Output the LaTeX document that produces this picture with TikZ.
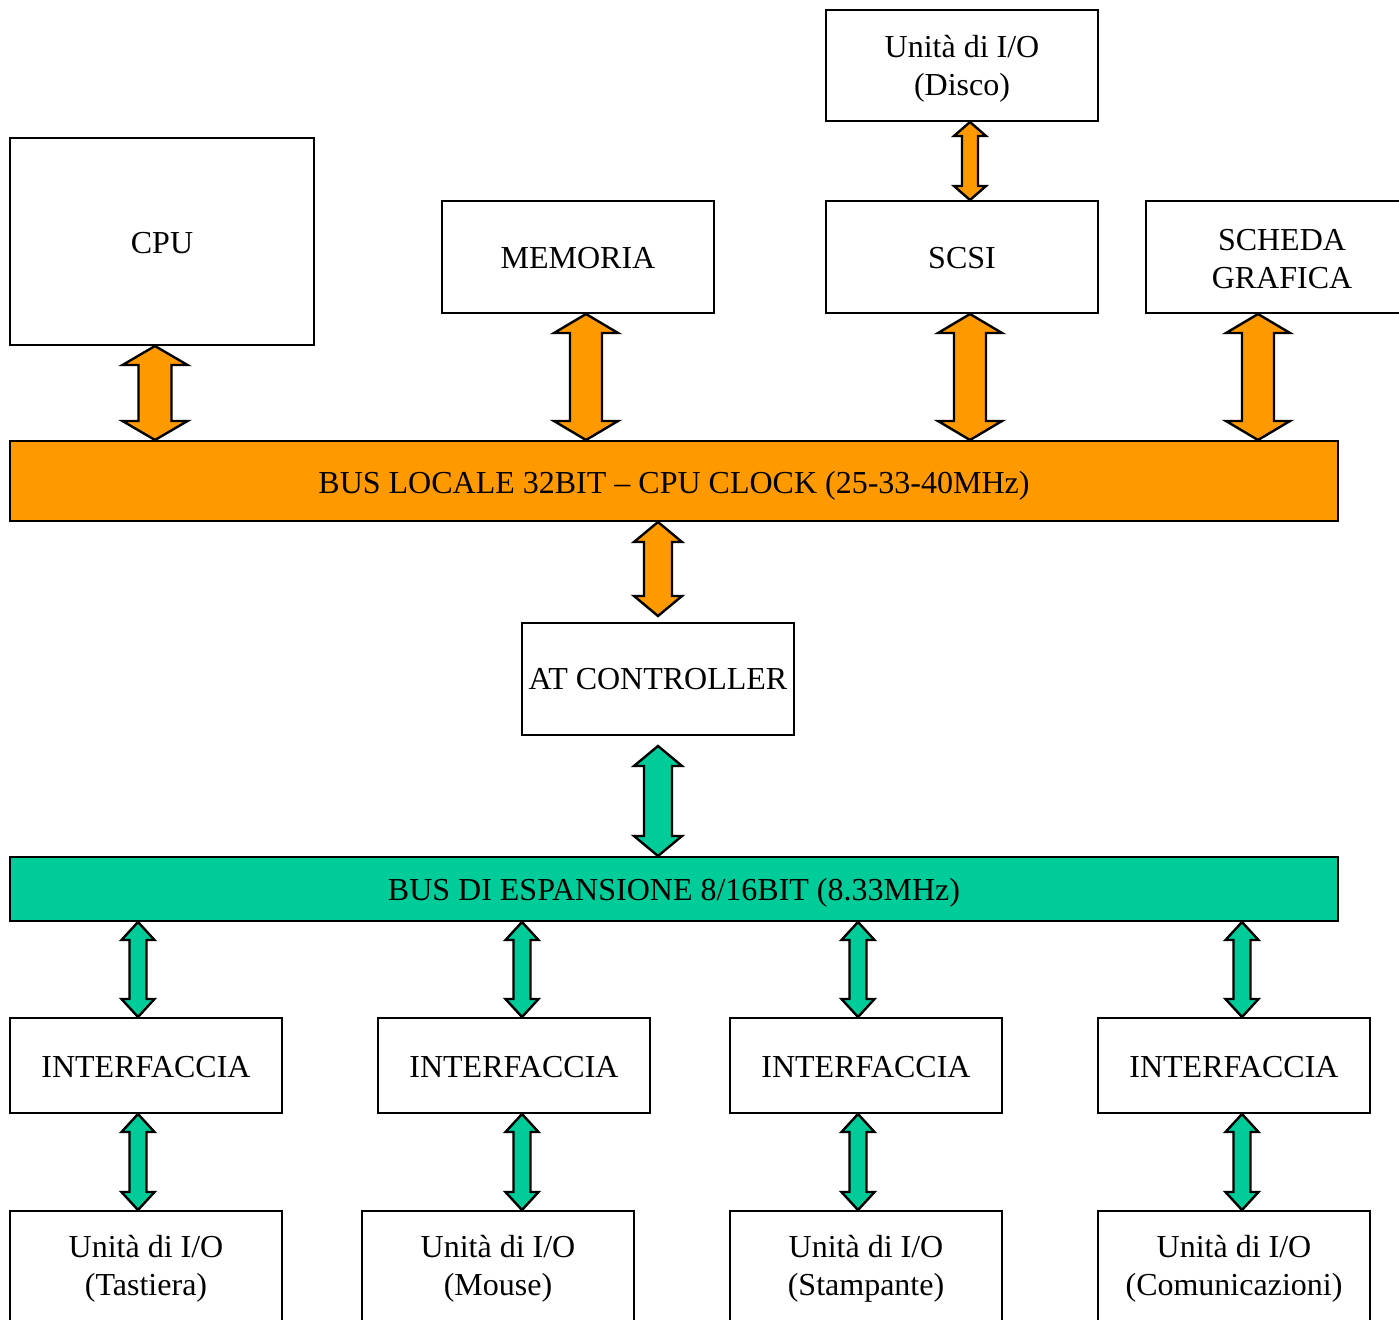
\documentclass[tikz,border=0pt]{standalone}
\usepackage{fontspec}
\setmainfont{Liberation Serif}
\usetikzlibrary{calc}
\definecolor{busorange}{HTML}{FF9900}
\definecolor{busgreen}{HTML}{00CC99}
\tikzset{
  box/.style={draw, line width=1pt, fill=white, inner sep=0pt},
  boxtext/.style={inner sep=0pt, anchor=base, align=center, font=\fontsize{16}{19}\selectfont},
  blockarrow/.style={draw=black, line width=1.2pt, line join=miter},
}
% #1 top tip, #2 bottom tip, #3 head half width, #4 shaft half width, #5 head length, #6 colour
\newcommand{\dblarrow}[6]{%
  \filldraw[blockarrow, fill=#6] ($(#1)$) -- ($(#1)+(#3,#5)$) -- ($(#1)+(#4,#5)$) -- ($(#2)+(#4,-#5)$) -- ($(#2)+(#3,-#5)$) -- ($(#2)$)
   -- ($(#2)+(-#3,-#5)$) -- ($(#2)+(-#4,-#5)$) -- ($(#1)+(-#4,#5)$) -- ($(#1)+(-#3,#5)$) -- cycle;}
\begin{document}
\begin{tikzpicture}[x=0.5pt,y=-0.5pt]
\clip (0,0) rectangle (1399,1319);
\fill[white] (0,0) rectangle (1399,1319);
% boxes
\node[box, minimum width=152pt, minimum height=103.5pt] (cpu) at (162,241.5) {};
\node[box, minimum width=136pt, minimum height=56pt] (mem) at (578,257) {};
\node[box, minimum width=136pt, minimum height=56pt] (scsi) at (962,257) {};
\node[box, minimum width=136pt, minimum height=55.5pt] (disco) at (962,65.5) {};
\node[box, minimum width=136pt, minimum height=56pt] (scheda) at (1282,257) {};
\node[box, fill=busorange, minimum width=664pt, minimum height=40pt] (bus1) at (674,481) {};
\node[box, minimum width=136pt, minimum height=56pt] (at) at (658,679) {};
\node[box, fill=busgreen, minimum width=664pt, minimum height=32pt] (bus2) at (674,889) {};
\foreach \n/\x in {if1/146, if2/514, if3/866, if4/1234}{
  \node[box, minimum width=136pt, minimum height=47.5pt] (\n) at (\x,1065.5) {};
  \node[boxtext] (\n t) at ($(\n.center)+(0,11.5)$) {INTERFACCIA};
}
\foreach \n/\x in {u1/146, u2/498, u3/866, u4/1234}
  \node[box, anchor=north, minimum width=136pt, minimum height=60pt] (\n) at (\x,1210) {};
% texts (base anchor = baseline of the last line)
\node[boxtext] (cput) at ($(cpu.center)+(0,12)$) {CPU};
\node[boxtext] (memt) at ($(mem.center)+(0,11.5)$) {MEMORIA};
\node[boxtext] (scsit) at ($(scsi.center)+(0,11.5)$) {SCSI};
\node[boxtext] (discot) at ($(disco.center)+(0,30)$) {Unità di I/O\\(Disco)};
\node[boxtext] (schedat) at ($(scheda.center)+(0,31.5)$) {SCHEDA\\GRAFICA};
\node[boxtext] (bus1t) at ($(bus1.center)+(0,12.5)$) {BUS LOCALE 32BIT -- CPU CLOCK (25-33-40MHz)};
\node[boxtext] (att) at ($(at.center)+(0,10.5)$) {AT CONTROLLER};
\node[boxtext] (bus2t) at ($(bus2.center)+(0,11.5)$) {BUS DI ESPANSIONE 8/16BIT (8.33MHz)};
\node[boxtext] (u1t) at ($(u1.north)+(0,85.5)$) {Unità di I/O\\(Tastiera)};
\node[boxtext] (u2t) at ($(u2.north)+(0,85.5)$) {Unità di I/O\\(Mouse)};
\node[boxtext] (u3t) at ($(u3.north)+(0,85.5)$) {Unità di I/O\\(Stampante)};
\node[boxtext] (u4t) at ($(u4.north)+(0,85.5)$) {Unità di I/O\\(Comunicazioni)};
% arrow axes
\coordinate (xa) at (155,0);
\coordinate (xb) at (586,0);
\coordinate (xc) at (970,0);
\coordinate (xd) at (1258,0);
\coordinate (xe) at (658,0);
\coordinate (g1) at (138,0);
\coordinate (g2) at (522,0);
\coordinate (g3) at (858,0);
\coordinate (g4) at (1242,0);
% orange arrows
\dblarrow{cpu.south -| xa}{bus1.north -| xa}{32.5}{16.5}{19}{busorange}
\dblarrow{mem.south -| xb}{bus1.north -| xb}{32}{16}{19}{busorange}
\dblarrow{scsi.south -| xc}{bus1.north -| xc}{32}{16}{19}{busorange}
\dblarrow{scheda.south -| xd}{bus1.north -| xd}{32}{16}{19}{busorange}
\dblarrow{disco.south -| xc}{scsi.north -| xc}{16}{8}{14}{busorange}
\dblarrow{bus1.south -| xe}{$(at.north -| xe)+(0,-6)$}{24}{14}{20}{busorange}
% green arrows
\dblarrow{$(at.south -| xe)+(0,10)$}{bus2.north -| xe}{24}{14}{20}{busgreen}
\foreach \i in {1,2,3,4}{
  \dblarrow{bus2.south -| g\i}{if\i.north -| g\i}{16.5}{8.5}{18}{busgreen}
  \dblarrow{if\i.south -| g\i}{u\i.north -| g\i}{16.5}{8.5}{18}{busgreen}
}
\end{tikzpicture}
\end{document}
